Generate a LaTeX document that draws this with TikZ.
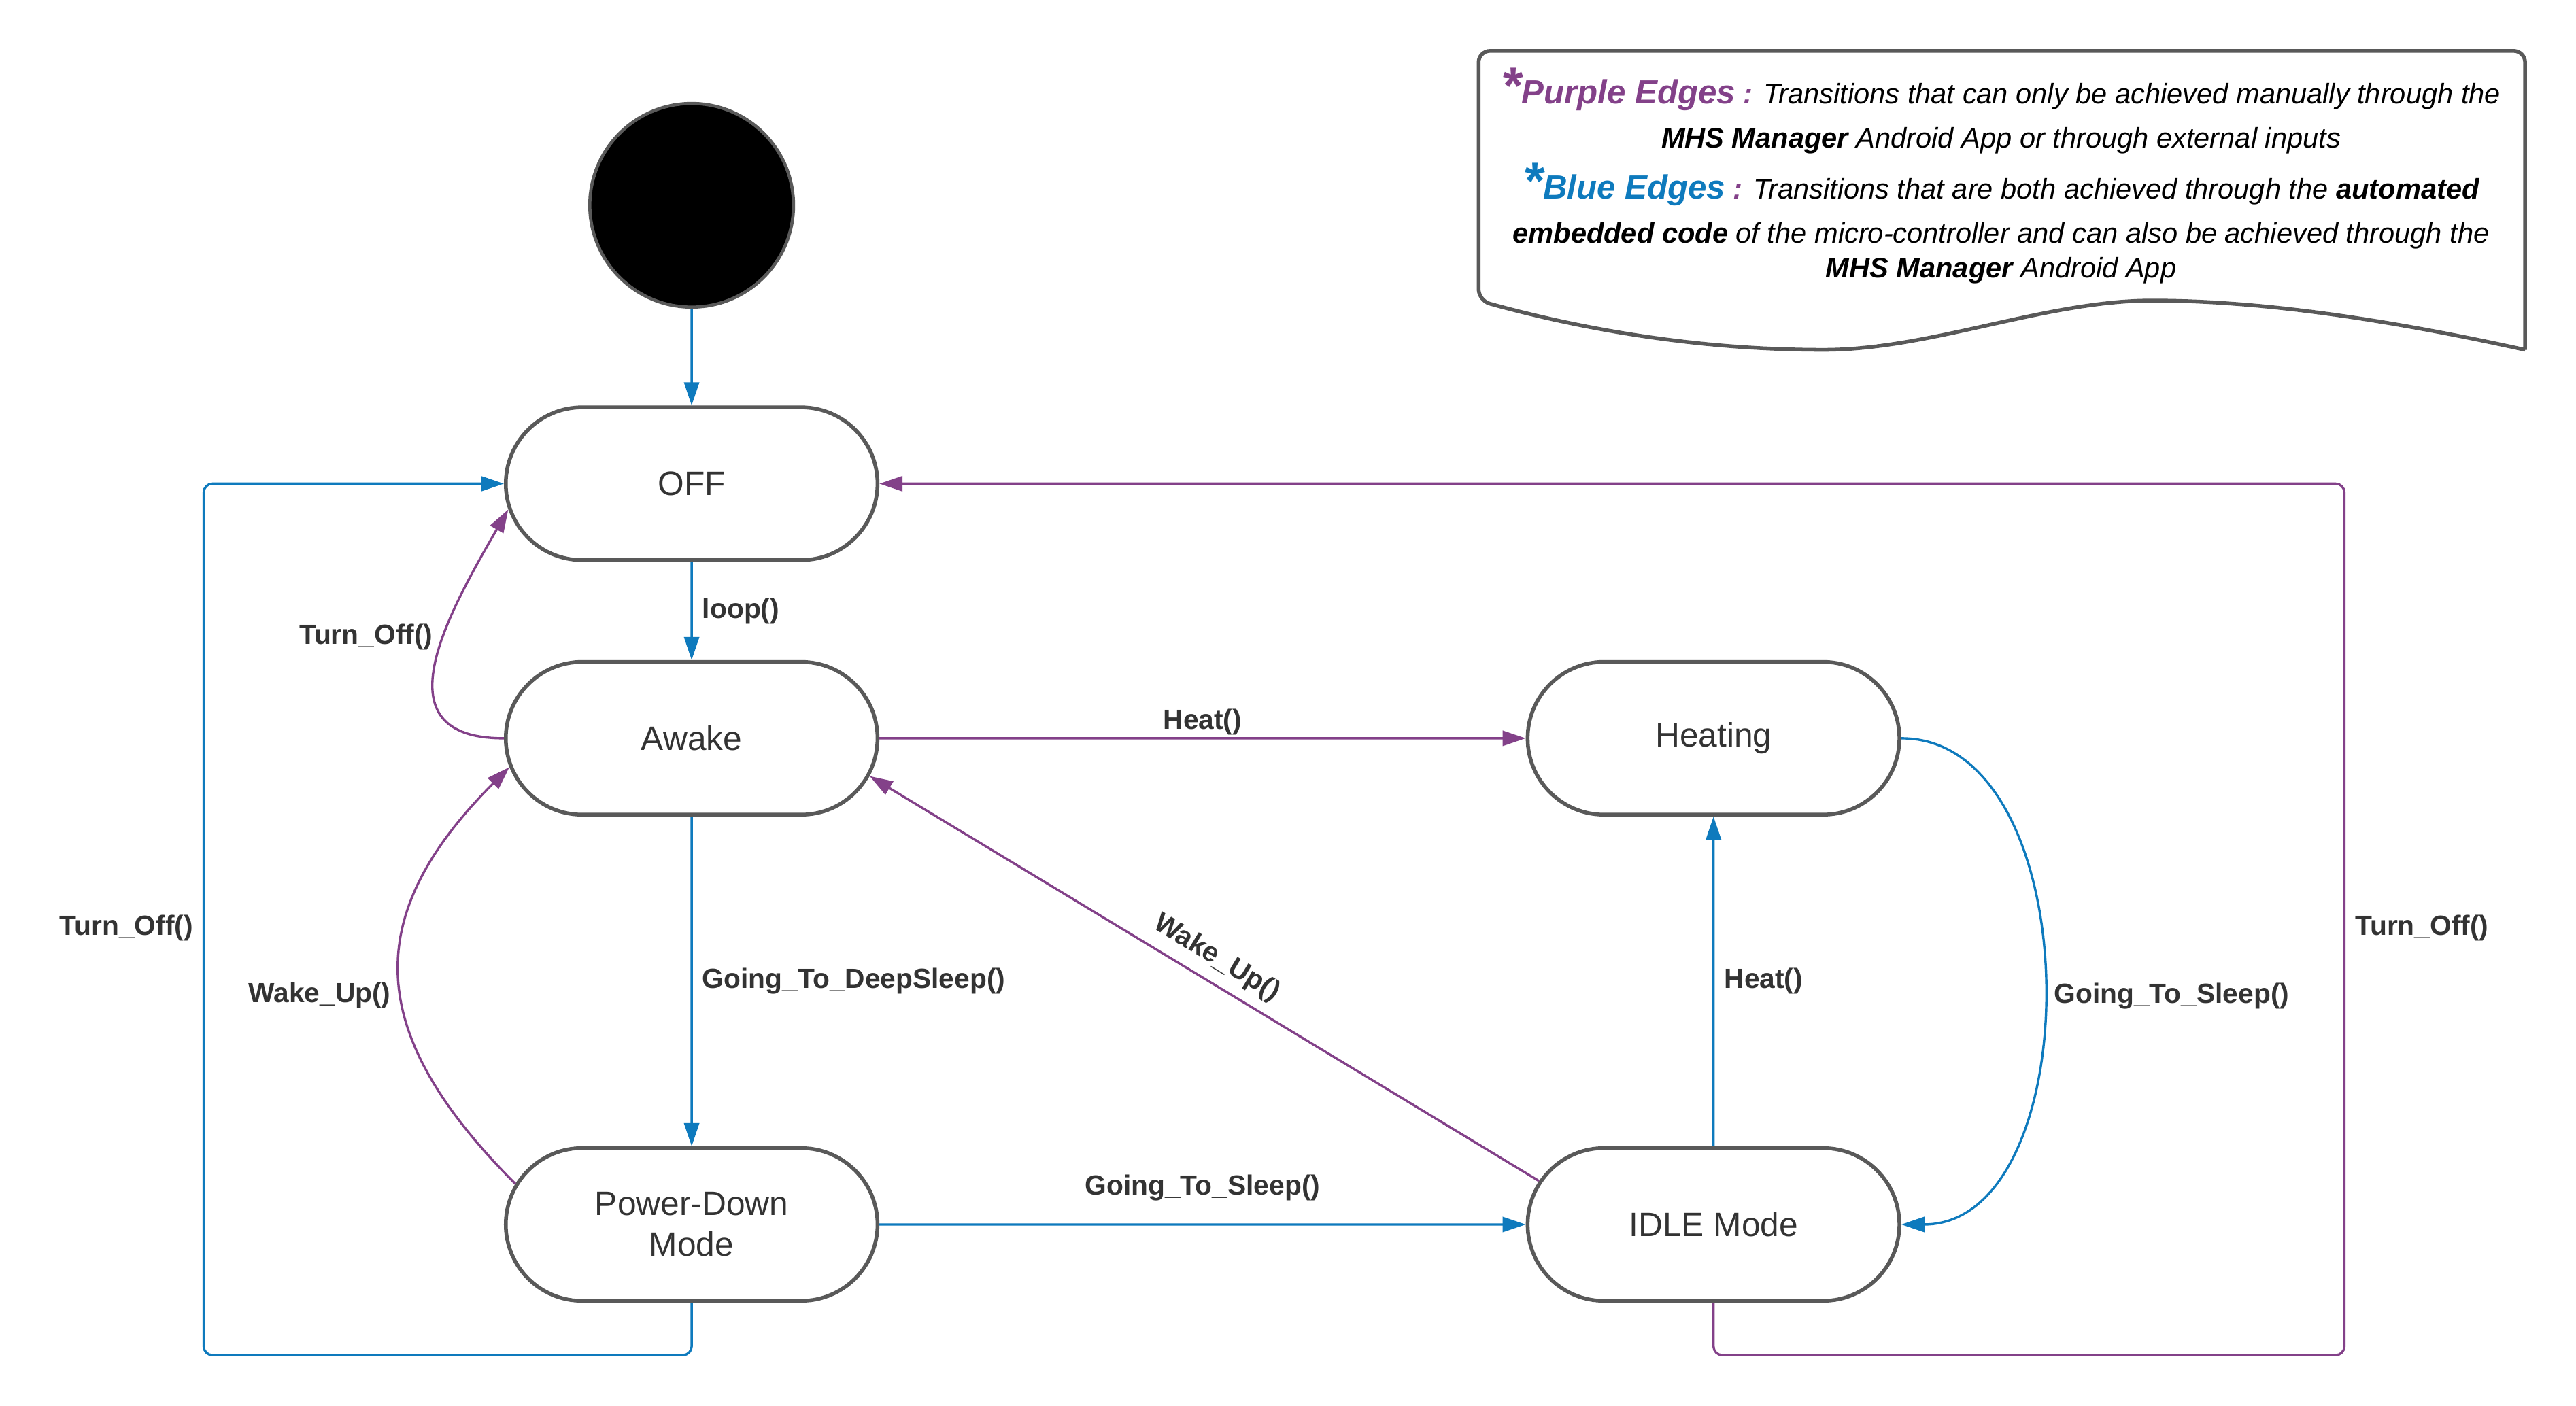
\documentclass[tikz,border=0pt]{standalone}
\usepackage{fontspec}
\setmainfont{Liberation Sans}
\usepackage{tikz}
\usetikzlibrary{arrows.meta, positioning, shapes.misc}

\definecolor{mhsPurple}{RGB}{131,65,137}
\definecolor{mhsBlue}{RGB}{14,122,189}
\definecolor{stateBorder}{RGB}{89,89,89}
\definecolor{labelText}{RGB}{51,51,51}

\newcommand{\legendHead}[2]{\textcolor{#1}{\bfseries{\fontsize{18}{18}\selectfont *}\fontsize{11.6}{13}\selectfont #2}}

\begin{document}
\begin{tikzpicture}[auto, >={Triangle[length=8pt, width=5.2pt]}, thick]
        % Definición de estilos para los estados y las transiciones
        \tikzstyle{state} = [draw=stateBorder, line width=1.3pt, rounded rectangle, minimum width=4.76cm, minimum height=1.86cm, text=labelText, align=center, font=\fontsize{11.7}{14.2}\selectfont]
        \tikzstyle{startDot} = [draw=stateBorder, fill=black, circle, line width=1.1pt, minimum size=2.48cm, inner sep=0pt]
        \tikzstyle{purpleEdge} = [draw=mhsPurple, line width=0.8pt, ->]
        \tikzstyle{blueEdge} = [draw=mhsBlue, line width=0.8pt, ->]
        \tikzstyle{edgeLabel} = [text=labelText, font=\bfseries\fontsize{9.6}{11.5}\selectfont]
        \tikzstyle{legendText} = [text=black, anchor=base, inner sep=0pt, font=\itshape\fontsize{9.8}{11.6}\selectfont]
       \fill[white] (0,0) rectangle (31.36,17.12); % Background
       % Nodes
       \node at (8.42,11.23) [state] (off) {OFF}; % OFF state
       \node [startDot, on grid, above=3.39cm of off] (start) {}; % Initial state
       \node [state, on grid, below=3.1cm of off] (awake) {Awake}; % Awake state
       \node [state, on grid, below=5.92cm of awake] (powerDown) {Power-Down\\Mode}; % Power-Down state
       \node [state, on grid, right=12.44cm of awake] (heating) {Heating}; % Heating state
       \node [state, on grid, below=5.92cm of heating] (idleMode) {IDLE Mode}; % IDLE state
       \coordinate (elbowLeft) at (2.48,0.62); % Elbow for left Turn_Off
       \coordinate (elbowRight) at (28.54,0.62); % Elbow for right Turn_Off
       % Legend
       \draw[stateBorder, line width=1.3pt] (30.74,12.86) [rounded corners=4pt] -- (30.74,16.5) -- (18.0,16.5) -- (18.0,13.46) [sharp corners]
            .. controls (19.3,13.1) and (20.7,12.86) .. (22.2,12.86)
            .. controls (23.5,12.86) and (24.9,13.46) .. (26.2,13.46)
            .. controls (27.6,13.46) and (29.2,13.2) .. (30.74,12.86);
       \node[legendText] (legendLine1) at (24.36,15.86) {\legendHead{mhsPurple}{Purple Edges}\textcolor{mhsPurple}{\bfseries\ :} Transitions that can only be achieved manually through the};
       \node[legendText] (legendLine2) at (24.36,15.32) {\textbf{MHS Manager} Android App or through external inputs};
       \node[legendText] (legendLine3) at (24.36,14.70) {\legendHead{mhsBlue}{Blue Edges}\textcolor{mhsPurple}{\bfseries\ :} Transitions that are both achieved through the \textbf{automated}};
       \node[legendText] (legendLine4) at (24.36,14.16) {\textbf{embedded code} of the micro-controller and can also be achieved through the};
       \node[legendText] (legendLine5) at (24.36,13.74) {\textbf{MHS Manager} Android App};
       % Connections
       \draw[blueEdge] (start) -- (off); % Initial to OFF
       \draw[blueEdge] (off) -- node[edgeLabel, right] {loop()} (awake); % OFF to Awake
       \draw[purpleEdge] (awake.west) to[out=180, in=240, looseness=1.4] node[edgeLabel, left, pos=0.6] {Turn\_Off()} (off.188); % Awake to OFF
       \draw[purpleEdge] (awake) -- node[edgeLabel, above, yshift=-2.5pt] {Heat()} (heating); % Awake to Heating
       \draw[blueEdge] (awake) -- node[edgeLabel, right] {Going\_To\_DeepSleep()} (powerDown); % Awake to Power-Down
       \draw[purpleEdge] (powerDown.167) to[out=135, in=225, looseness=1.3] node[edgeLabel, left, pos=0.45] {Wake\_Up()} (awake.189); % Power-Down to Awake
       \draw[blueEdge] (powerDown) -- node[edgeLabel, above=4.5pt] {Going\_To\_Sleep()} (idleMode); % Power-Down to IDLE
       \draw[purpleEdge, <-] (awake.348) -- node[edgeLabel, above, sloped] {Wake\_Up()} (idleMode.166); % IDLE to Awake
       \draw[blueEdge] (idleMode) -- node[edgeLabel, right] {Heat()} (heating); % IDLE to Heating
       \draw[blueEdge] (heating.east) to[out=0, in=0, looseness=1] node[edgeLabel, right, pos=0.52] {Going\_To\_Sleep()} (idleMode.east); % Heating to IDLE
       \draw[blueEdge, rounded corners=3pt] (powerDown.south) |- (elbowLeft) |- node[edgeLabel, left, pos=0.245] {Turn\_Off()} (off.west); % Power-Down to OFF
       \draw[purpleEdge, rounded corners=3pt] (idleMode.south) |- (elbowRight) |- node[edgeLabel, right, pos=0.245] {Turn\_Off()} (off.east); % IDLE to OFF

      \end{tikzpicture}
\end{document}
